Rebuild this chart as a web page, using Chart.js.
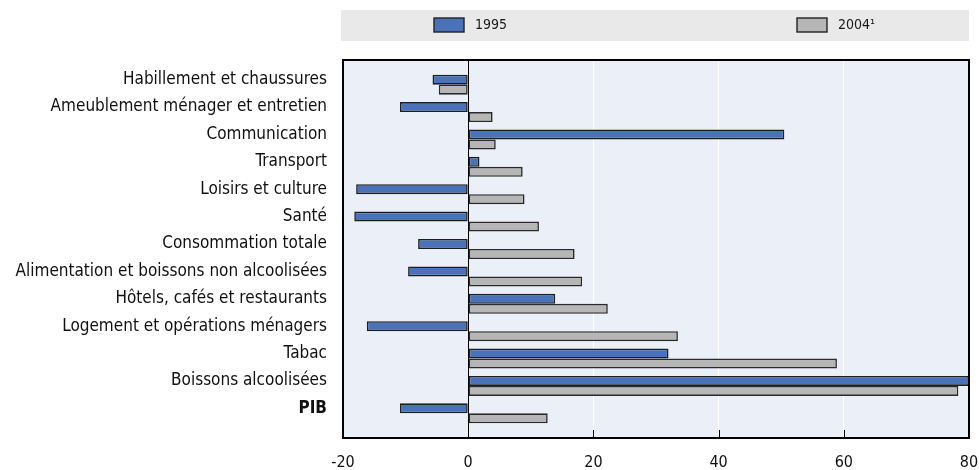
<!DOCTYPE html>
<html lang="fr">
<head>
    <meta charset="UTF-8">
    <title>Variation des prix relatifs</title>
    <script src="https://cdn.jsdelivr.net/npm/chart.js"></script>
    <style>
        html, body { margin: 0; padding: 0; background: #fff; }
        #wrap { width: 979px; height: 470px; }
    </style>
</head>
<body>
    <div id="wrap"><canvas id="chart"></canvas></div>

<script>
// données (%)
const categories = [
    'Habillement et chaussures',
    'Ameublement ménager et entretien',
    'Communication',
    'Transport',
    'Loisirs et culture',
    'Santé',
    'Consommation totale',
    'Alimentation et boissons non alcoolisées',
    'Hôtels, cafés et restaurants',
    'Logement et opérations ménagers',
    'Tabac',
    'Boissons alcoolisées',
    'PIB'
];
const values1995 = [-5.7, -10.9, 50.5, 1.8, -17.9, -18.2, -8.0, -9.6, 13.9, -16.2, 32.0, 80.0, -10.9];
const values2004 = [-4.7, 3.9, 4.4, 8.7, 9.0, 11.3, 17.0, 18.2, 22.3, 33.5, 58.9, 78.3, 12.7];
const seriesLabels = ['1995', '2004¹'];
const xTicks = [-20, 0, 20, 40, 60, 80];

const FONT = "'DejaVu Sans Condensed', 'DejaVu Sans', sans-serif";
const BLUE = '#4a72b8';
const GREY = '#b6b6b6';

function toPoints(vals) {
    return vals.map((v, i) => ({ x: v, y: i }));
}

// fond du graphique, bandeau de légende, cadre et petites graduations
const decor = {
    id: 'decor',
    beforeDraw(chart) {
        const { ctx, chartArea: a } = chart;
        ctx.save();
        ctx.fillStyle = '#e9e9e9';
        ctx.fillRect(a.left - 2, 10, a.right - a.left + 2, 31);
        ctx.fillStyle = '#ebf0f8';
        ctx.fillRect(a.left, a.top, a.right - a.left, a.bottom - a.top);
        ctx.restore();
    },
    afterDraw(chart) {
        const { ctx, chartArea: a } = chart;
        const xs = chart.scales.x;
        ctx.save();
        ctx.strokeStyle = '#000';
        ctx.lineWidth = 2;
        ctx.strokeRect(a.left, a.top, a.right - a.left, a.bottom - a.top);
        ctx.lineWidth = 1;
        xTicks.slice(1, -1).forEach(t => {
            const px = Math.round(xs.getPixelForValue(t)) + 0.5;
            ctx.beginPath();
            ctx.moveTo(px, a.bottom);
            ctx.lineTo(px, a.bottom - 8);
            ctx.stroke();
        });

        // légende
        const offsets = [91, 454];
        ctx.font = '14px ' + FONT;
        ctx.textBaseline = 'middle';
        chart.data.datasets.forEach((ds, i) => {
            const bx = a.left + offsets[i];
            ctx.fillStyle = ds.backgroundColor;
            ctx.fillRect(bx, 18, 30, 14);
            ctx.strokeStyle = '#222';
            ctx.lineWidth = 1.4;
            ctx.strokeRect(bx, 18, 30, 14);
            ctx.fillStyle = '#1a1a1a';
            ctx.fillText(ds.label, bx + 41, 25);
        });
        ctx.restore();
    }
};

new Chart(document.getElementById('chart'), {
    type: 'bar',
    data: {
        datasets: [
            {
                label: seriesLabels[0],
                data: toPoints(values1995),
                backgroundColor: BLUE,
                borderColor: '#1e1e1e',
                borderWidth: 1.6,
                borderSkipped: false
            },
            {
                label: seriesLabels[1],
                data: toPoints(values2004),
                backgroundColor: GREY,
                borderColor: '#2a2a2a',
                borderWidth: 1.6,
                borderSkipped: false
            }
        ]
    },
    options: {
        indexAxis: 'y',
        responsive: true,
        maintainAspectRatio: false,
        animation: false,
        categoryPercentage: 0.73,
        barPercentage: 1.0,
        layout: { padding: { top: 60, right: 0, left: 0, bottom: 0 } },
        plugins: {
            legend: { display: false },
            tooltip: { enabled: false }
        },
        scales: {
            x: {
                type: 'linear',
                min: -20,
                max: 80,
                afterBuildTicks: s => { s.ticks = xTicks.map(v => ({ value: v })); },
                afterFit: s => { s.height = 32; s.paddingRight = 10; },
                border: { display: false },
                grid: {
                    drawTicks: false,
                    lineWidth: 1,
                    color: c => (c.tick && c.tick.value === 0) ? '#000' : '#ffffff'
                },
                ticks: {
                    padding: 15,
                    color: '#111',
                    font: { family: FONT, size: 16 }
                }
            },
            y: {
                type: 'linear',
                reverse: true,
                offset: false,
                min: -0.9,
                max: 12.9,
                afterFit: s => { s.width = 343; },
                border: { display: false },
                grid: { display: false, drawTicks: false, offset: false },
                ticks: {
                    stepSize: 1,
                    includeBounds: false,
                    autoSkip: false,
                    padding: 16,
                    labelOffset: -5,
                    color: '#111',
                    callback: v => Number.isInteger(v) ? categories[v] : '',
                    font: c => ({
                        family: FONT,
                        size: 17,
                        weight: (c.tick && c.tick.value === 12) ? 'bold' : 'normal'
                    })
                }
            }
        }
    },
    plugins: [decor]
});
</script>
</body>
</html>
